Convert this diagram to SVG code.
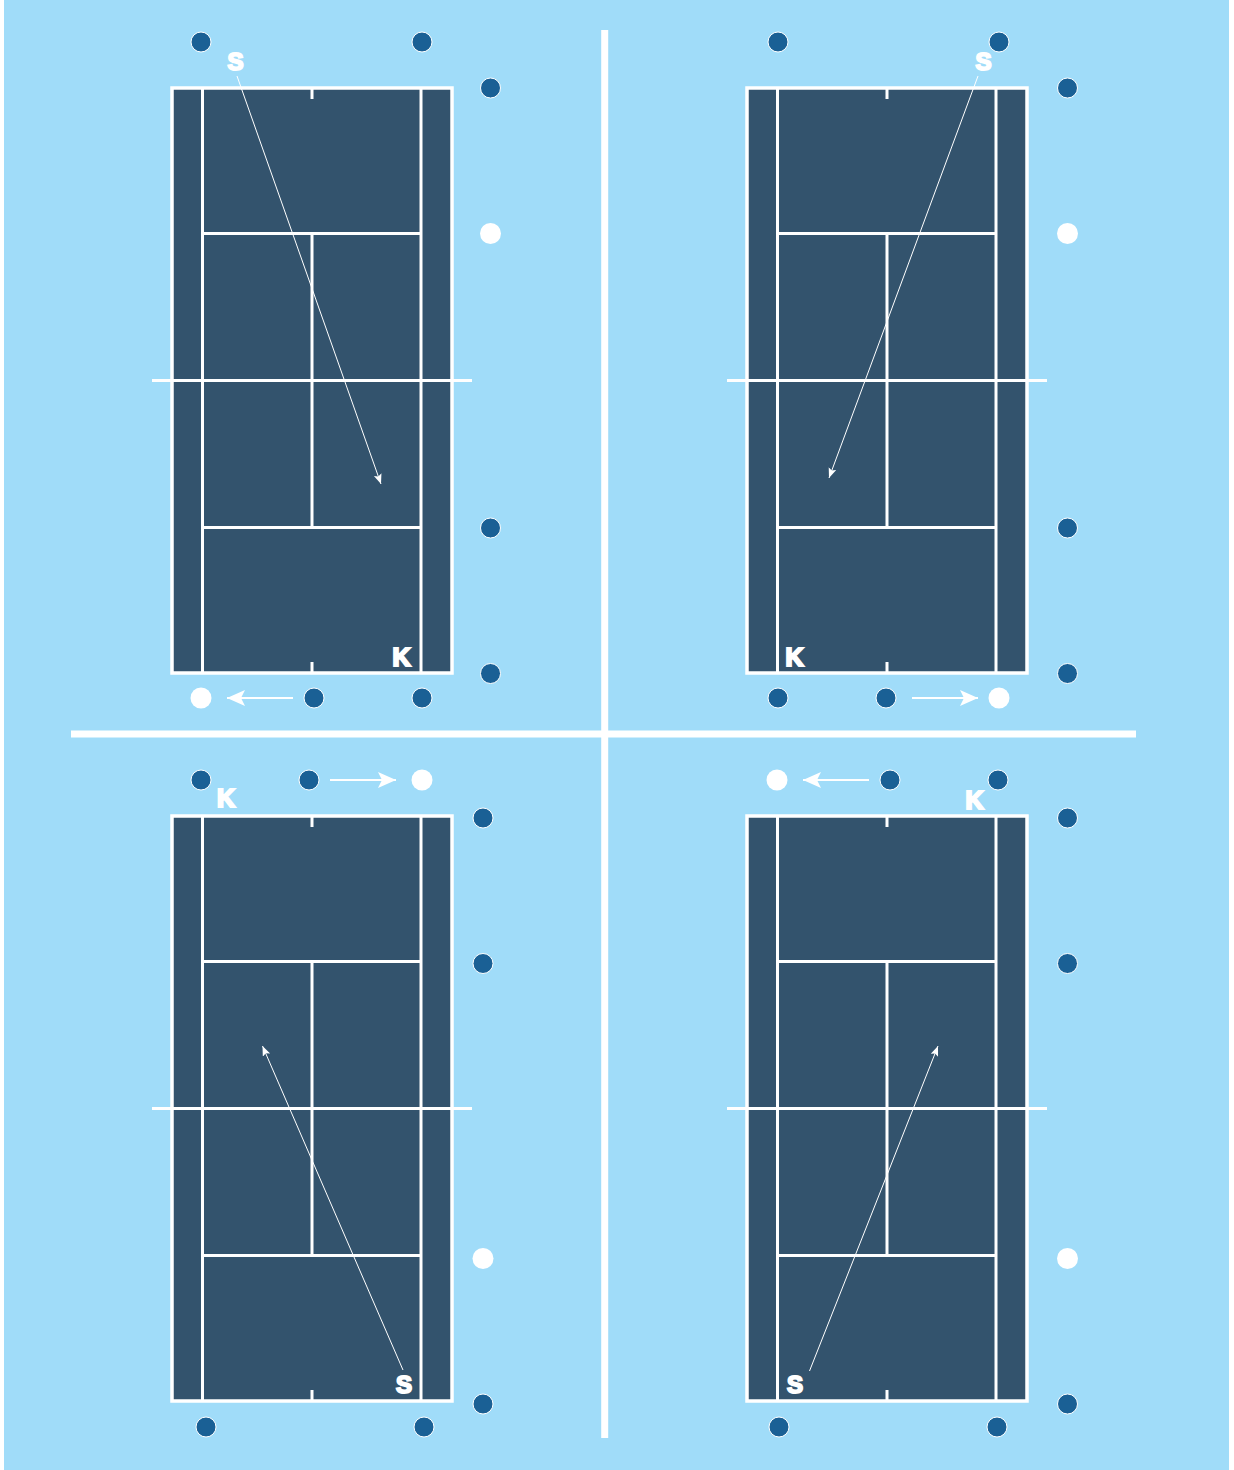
<svg xmlns="http://www.w3.org/2000/svg" width="1234" height="1470" viewBox="0 0 1234 1470">
<style>
.bg{fill:#a0dcf9}
.court{fill:#33536d;stroke:#fff;stroke-width:3.500}
.cl{stroke:#fff;stroke-width:3;fill:none}
.div{stroke:#fff;stroke-width:7;fill:none}
.d{fill:#1a6095;stroke:#fff;stroke-width:1}
.w{fill:#fff}
.t{font-family:"Liberation Sans",Arial,sans-serif;font-weight:700;font-size:24px;fill:#fff;stroke:#fff;stroke-width:2;text-anchor:middle}
.k{font-size:25px;stroke-width:2.200}
.serve{stroke:#fff;stroke-width:1;fill:none;marker-end:url(#sm)}
.move{stroke:#fff;stroke-width:2;fill:none;marker-end:url(#lg)}
</style>
<defs>
<marker id="sm" markerUnits="userSpaceOnUse" markerWidth="12" markerHeight="10" refX="10" refY="4" orient="auto"><path d="M0 0L10 4L0 8L2 4Z" fill="#fff"/></marker>
<marker id="lg" markerUnits="userSpaceOnUse" markerWidth="20" markerHeight="16" refX="18" refY="8" orient="auto"><path d="M0 0L18 8L0 16L4 8Z" fill="#fff"/></marker>
<g id="court">
<rect class="court" x="172" y="88" width="280" height="585"/>
<path class="cl" d="M202.500 88V673M421 88V673M203 233.500H421M203 527.500H421M312 233.500V527.500M152 380.500H472M312 88V99M312 673V662"/>
</g>
</defs>
<rect class="bg" x="4" y="0" width="1225" height="1470"/>
<g id="dividers"><path class="div" d="M604.700 30V1438M71 734H1136"/></g>
<g id="court-tl"><use href="#court"/></g>
<g id="court-tr"><use href="#court" x="575"/></g>
<g id="court-bl"><use href="#court" y="728"/></g>
<g id="court-br"><use href="#court" x="575" y="728"/></g>
<g id="connectors">
<path class="serve" d="M237 76L381 484"/>
<path class="serve" d="M978 76L829 478"/>
<path class="serve" d="M403 1370L262.500 1046"/>
<path class="serve" d="M809.500 1371L938 1046"/>
<path class="move" d="M293 698H227"/>
<path class="move" d="M912 698H978"/>
<path class="move" d="M330 780H396"/>
<path class="move" d="M869 780H803"/>
</g>
<g id="players-tl">
<circle class="d" cx="201" cy="42" r="10"/><circle class="d" cx="422" cy="42" r="10"/><circle class="d" cx="490.500" cy="88" r="10"/><circle class="w" cx="490.500" cy="233.500" r="10.500"/><circle class="d" cx="490.500" cy="528" r="10"/><circle class="d" cx="490.500" cy="673.500" r="10"/><circle class="w" cx="201" cy="698" r="10.500"/><circle class="d" cx="314" cy="698" r="10"/><circle class="d" cx="422" cy="698" r="10"/>
<text class="t" x="235.500" y="69.500">S</text><text class="t k" x="401.500" y="665.500">K</text>
</g>
<g id="players-tr">
<circle class="d" cx="778" cy="42" r="10"/><circle class="d" cx="999" cy="42" r="10"/><circle class="d" cx="1067.500" cy="88" r="10"/><circle class="w" cx="1067.500" cy="233.500" r="10.500"/><circle class="d" cx="1067.500" cy="528" r="10"/><circle class="d" cx="1067.500" cy="673.500" r="10"/><circle class="d" cx="778" cy="698" r="10"/><circle class="d" cx="886" cy="698" r="10"/><circle class="w" cx="999" cy="698" r="10.500"/>
<text class="t" x="983.500" y="69.500">S</text><text class="t k" x="794.500" y="665.500">K</text>
</g>
<g id="players-bl">
<circle class="d" cx="201" cy="780" r="10"/><circle class="d" cx="309" cy="780" r="10"/><circle class="w" cx="422" cy="780" r="10.500"/><circle class="d" cx="483" cy="818" r="10"/><circle class="d" cx="483" cy="963.500" r="10"/><circle class="w" cx="483" cy="1258.500" r="10.500"/><circle class="d" cx="483" cy="1404" r="10"/><circle class="d" cx="206" cy="1427" r="10"/><circle class="d" cx="424" cy="1427" r="10"/>
<text class="t k" x="226" y="807">K</text><text class="t" x="404" y="1393">S</text>
</g>
<g id="players-br">
<circle class="w" cx="777" cy="780" r="10.500"/><circle class="d" cx="890" cy="780" r="10"/><circle class="d" cx="998" cy="780" r="10"/><circle class="d" cx="1067.500" cy="818" r="10"/><circle class="d" cx="1067.500" cy="963.500" r="10"/><circle class="w" cx="1067.500" cy="1258.500" r="10.500"/><circle class="d" cx="1067.500" cy="1404" r="10"/><circle class="d" cx="779" cy="1427" r="10"/><circle class="d" cx="997" cy="1427" r="10"/>
<text class="t k" x="974.500" y="809">K</text><text class="t" x="795" y="1393">S</text>
</g>
</svg>
